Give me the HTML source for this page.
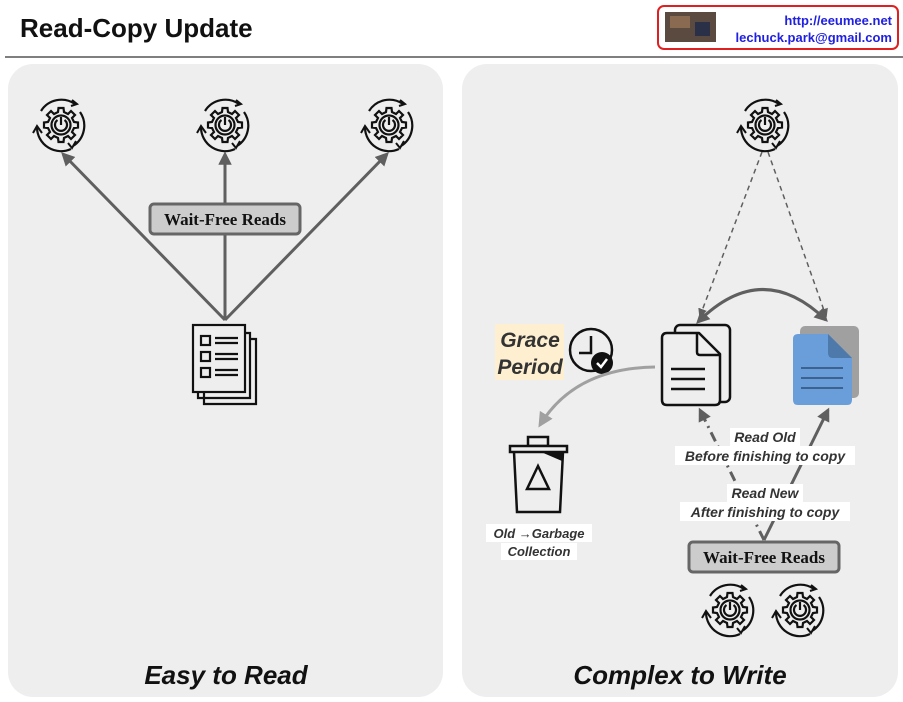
<!DOCTYPE html>
<html><head><meta charset="utf-8"><style>
body{margin:0;background:#fff;width:903px;height:702px;overflow:hidden}
svg{display:block}
</style></head><body>
<svg width="903" height="702" viewBox="0 0 903 702" xmlns="http://www.w3.org/2000/svg">
<defs>
<g id="gear" fill="none" stroke="#111" stroke-width="2.2">
  <path d="M-20,-14 A24,24 0 0 1 14,-21"/>
  <path d="M10,-19 L16,-21 L11,-25" stroke-width="2"/>
  <path d="M19,-13 A24,24 0 0 1 12,21"/>
  <path d="M15,16 L11,23 L7,18" stroke-width="2"/>
  <path d="M10,24 A24,24 0 0 1 -24,3"/>
  <path d="M-19,8 L-24,1 L-28,8" stroke-width="2"/>
  <path d="M-2.5,-17 L2.5,-17 L3,-13 L7,-11 L10,-14 L14,-10 L11,-7 L13,-3 L17,-2.5 L17,2.5 L13,3 L11,7 L14,10 L10,14 L7,11 L3,13 L2.5,17 L-2.5,17 L-3,13 L-7,11 L-10,14 L-14,10 L-11,7 L-13,3 L-17,2.5 L-17,-2.5 L-13,-3 L-11,-7 L-14,-10 L-10,-14 L-7,-11 L-3,-13 Z"/>
  <circle r="9.5"/>
  <path d="M-3.5,-5 A6,6 0 1 0 3.5,-5"/>
  <path d="M0,-8 L0,0"/>
</g>
<marker id="ah" viewBox="0 0 10 10" refX="8" refY="5" markerWidth="4.5" markerHeight="4.5" orient="auto-start-reverse"><path d="M0,0 L10,5 L0,10 Z" fill="#5f5f5f"/></marker>
<marker id="ahs" viewBox="0 0 10 10" refX="8" refY="5" markerWidth="6" markerHeight="6" orient="auto-start-reverse"><path d="M0,0 L10,5 L0,10 Z" fill="#5f5f5f"/></marker>
<marker id="ahg" viewBox="0 0 10 10" refX="8" refY="5" markerWidth="5" markerHeight="5" orient="auto"><path d="M0,0 L10,5 L0,10 Z" fill="#a0a0a0"/></marker>
</defs>

<!-- header -->
<text x="20" y="37" font-family="'Comic Sans MS','Liberation Sans',sans-serif" font-weight="bold" font-size="26" fill="#111">Read-Copy Update</text>
<line x1="5" y1="57" x2="903" y2="57" stroke="#555" stroke-width="1.5"/>
<rect x="658" y="6" width="240" height="43" rx="6" fill="#fff" stroke="#e02020" stroke-width="2"/>
<rect x="665" y="12" width="51" height="30" fill="#5a4a40"/>
<rect x="670" y="16" width="20" height="12" fill="#8a6a50"/><rect x="695" y="22" width="15" height="14" fill="#2a3048"/>
<text x="892" y="25" text-anchor="end" font-family="'Liberation Sans',sans-serif" font-weight="bold" font-size="13" fill="#2020e0">http://eeumee.net</text>
<text x="892" y="42" text-anchor="end" font-family="'Liberation Sans',sans-serif" font-weight="bold" font-size="13" fill="#2020e0">lechuck.park@gmail.com</text>

<!-- panels -->
<rect x="8" y="64" width="435" height="633" rx="25" fill="#eeeeee"/>
<rect x="462" y="64" width="436" height="633" rx="25" fill="#eeeeee"/>

<!-- left -->
<g stroke="#5f5f5f" stroke-width="3" fill="none">
<line x1="225" y1="320" x2="63" y2="154" marker-end="url(#ah)"/>
<line x1="225" y1="320" x2="225" y2="154" marker-end="url(#ah)"/>
<line x1="225" y1="320" x2="387" y2="154" marker-end="url(#ah)"/>
</g>
<use href="#gear" x="61" y="125"/>
<use href="#gear" x="225" y="125"/>
<use href="#gear" x="389" y="125"/>
<rect x="150" y="204" width="150" height="30" rx="4" fill="#cccccc" stroke="#666" stroke-width="3"/>
<text x="225" y="225" text-anchor="middle" font-family="'Liberation Serif',serif" font-weight="bold" font-size="17" fill="#111">Wait-Free Reads</text>
<!-- list doc -->
<g fill="none" stroke="#111" stroke-width="2.2">
<path d="M204,392 L204,404 L256,404 L256,339 L250,339"/>
<path d="M198,386 L198,398 L250,398 L250,333 L245,333"/>
<rect x="193" y="325" width="52" height="67" fill="#eee"/>
<rect x="201" y="336" width="9" height="9"/><rect x="201" y="352" width="9" height="9"/><rect x="201" y="368" width="9" height="9"/>
<path d="M215,338 H238 M215,343 H238 M215,354 H238 M215,359 H238 M215,370 H238 M215,375 H238"/>
</g>
<text x="226" y="684" text-anchor="middle" font-family="'Comic Sans MS','Liberation Sans',sans-serif" font-style="italic" font-weight="bold" font-size="26" fill="#111">Easy to Read</text>

<!-- right -->
<use href="#gear" x="765" y="125"/>
<g stroke="#5f5f5f" stroke-width="1.5" fill="none" stroke-dasharray="5,4">
<line x1="762" y1="152" x2="700" y2="316" marker-end="url(#ahs)"/>
<line x1="768" y1="152" x2="826" y2="316" marker-end="url(#ahs)"/>
</g>
<path d="M698,322 Q762,258 826,320" fill="none" stroke="#5f5f5f" stroke-width="3" marker-start="url(#ah)" marker-end="url(#ah)"/>
<!-- old doc -->
<g fill="none" stroke="#111" stroke-width="2.5" stroke-linejoin="round">
<rect x="675" y="325" width="55" height="77" rx="5" fill="#eee"/>
<path d="M667,333 H699 L720,354 V400 Q720,405 715,405 H667 Q662,405 662,400 V338 Q662,333 667,333 Z" fill="#eee"/>
<path d="M697,334 V352 Q697,355 700,355 H719"/>
<path d="M671,369 H705 M671,379 H705 M671,389 H705"/>
</g>
<!-- new doc -->
<rect x="800" y="326" width="59" height="72" rx="5" fill="#a0a0a0"/>
<path d="M798,334 H828 L852,358 V400 Q852,405 847,405 H798 Q793,405 793,400 V339 Q793,334 798,334 Z" fill="#6a9edb"/>
<path d="M828,334 V353 Q828,358 833,358 H852 Z" fill="#4d79ab"/>
<path d="M801,368 H843 M801,378 H843 M801,388 H843" stroke="#3e628f" stroke-width="2"/>
<!-- grace -->
<rect x="495" y="324" width="69" height="56" fill="#fdefd0"/>
<text x="530" y="347" text-anchor="middle" font-family="'Liberation Sans',sans-serif" font-style="italic" font-weight="bold" font-size="21" fill="#333">Grace</text>
<text x="530" y="374" text-anchor="middle" font-family="'Liberation Sans',sans-serif" font-style="italic" font-weight="bold" font-size="21" fill="#333">Period</text>
<circle cx="591" cy="350" r="21" fill="none" stroke="#111" stroke-width="2.5"/>
<path d="M591,336 V353 H579" fill="none" stroke="#111" stroke-width="2.5"/>
<circle cx="602" cy="363" r="11" fill="#111"/>
<path d="M597,363 L601,367 L607,359" fill="none" stroke="#fff" stroke-width="2.5"/>
<path d="M655,367 Q575,368 540,425" fill="none" stroke="#a0a0a0" stroke-width="3" marker-end="url(#ahg)"/>
<!-- trash -->
<g fill="none" stroke="#111" stroke-width="2.5">
<rect x="528" y="437" width="20" height="9"/>
<rect x="510" y="446" width="57" height="6" fill="#eee"/>
<path d="M514,452 L517,512 H560 L563,452"/>
<path d="M538,466 L527,489 H549 Z"/>
</g>
<path d="M541,452 H563 L562,461 Z" fill="#111"/>
<rect x="486" y="524" width="106" height="18" fill="#fff"/>
<rect x="501" y="543" width="76" height="17" fill="#fff"/>
<text x="539" y="538" text-anchor="middle" font-family="'Liberation Sans',sans-serif" font-style="italic" font-weight="bold" font-size="13" fill="#333">Old →Garbage</text>
<text x="539" y="556" text-anchor="middle" font-family="'Liberation Sans',sans-serif" font-style="italic" font-weight="bold" font-size="13" fill="#333">Collection</text>
<!-- read arrows -->
<line x1="764" y1="540" x2="700" y2="410" stroke="#5f5f5f" stroke-width="3" stroke-dasharray="10,5,2,5" marker-end="url(#ah)"/>
<line x1="764" y1="540" x2="828" y2="410" stroke="#5f5f5f" stroke-width="3" marker-end="url(#ah)"/>
<rect x="730" y="428" width="70" height="18" fill="#fff"/>
<rect x="675" y="446" width="180" height="19" fill="#fff"/>
<text x="765" y="442" text-anchor="middle" font-family="'Liberation Sans',sans-serif" font-style="italic" font-weight="bold" font-size="14" fill="#333">Read Old</text>
<text x="765" y="461" text-anchor="middle" font-family="'Liberation Sans',sans-serif" font-style="italic" font-weight="bold" font-size="14" fill="#333">Before finishing to copy</text>
<rect x="727" y="484" width="76" height="18" fill="#fff"/>
<rect x="680" y="502" width="170" height="19" fill="#fff"/>
<text x="765" y="498" text-anchor="middle" font-family="'Liberation Sans',sans-serif" font-style="italic" font-weight="bold" font-size="14" fill="#333">Read New</text>
<text x="765" y="517" text-anchor="middle" font-family="'Liberation Sans',sans-serif" font-style="italic" font-weight="bold" font-size="14" fill="#333">After finishing to copy</text>
<rect x="689" y="542" width="150" height="30" rx="4" fill="#cccccc" stroke="#666" stroke-width="3"/>
<text x="764" y="563" text-anchor="middle" font-family="'Liberation Serif',serif" font-weight="bold" font-size="17" fill="#111">Wait-Free Reads</text>
<use href="#gear" x="730" y="610"/>
<use href="#gear" x="800" y="610"/>
<text x="680" y="684" text-anchor="middle" font-family="'Comic Sans MS','Liberation Sans',sans-serif" font-style="italic" font-weight="bold" font-size="26" fill="#111">Complex to Write</text>
</svg>
</body></html>
